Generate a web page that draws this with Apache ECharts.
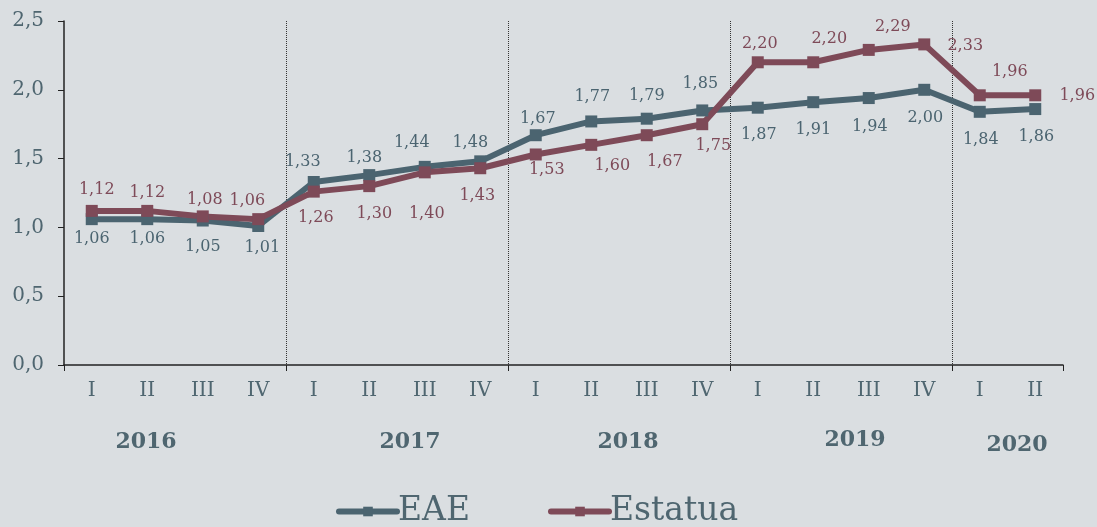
<!DOCTYPE html>
<html>
<head>
<meta charset="utf-8">
<script src="https://cdn.jsdelivr.net/npm/echarts@6/dist/echarts.min.js"></script>
<style>
  html, body { margin: 0; padding: 0; background: #dadee1; }
  #chart { width: 1097px; height: 527px; }
</style>
</head>
<body>
<div id="chart"></div>
<script>
// datos
var quarters = ['I','II','III','IV','I','II','III','IV','I','II','III','IV','I','II','III','IV','I','II'];
var years = ['2016', '2017', '2018', '2019', '2020'];
var eae = [1.06, 1.06, 1.05, 1.01, 1.33, 1.38, 1.44, 1.48, 1.67, 1.77, 1.79, 1.85, 1.87, 1.91, 1.94, 2.00, 1.84, 1.86];
var estatua = [1.12, 1.12, 1.08, 1.06, 1.26, 1.30, 1.40, 1.43, 1.53, 1.60, 1.67, 1.75, 2.20, 2.20, 2.29, 2.33, 1.96, 1.96];
var yTicks = [0, 0.5, 1, 1.5, 2, 2.5];

// desplazamiento de etiquetas [dx, dy]
var offEAE = [[0,20],[0,20],[0,26],[4,22],[-11,-20],[-5,-17],[-13,-24],[-10,-19],[2,-16],[1,-25],[0,-23],[-2,-27],[1,27],[0,28],[1,29],[1,28],[1,28],[1,28]];
var offEst = [[5,-21],[0,-18],[2,-17],[-11,-18],[2,26],[5,28],[2,41],[-3,28],[11,15],[21,21],[18,27],[11,22],[2,-18],[16,-23],[24,-23],[41,1],[30,-23],[42,1]];
var yearPos = [[146,442],[410,442],[628,442],[855,440],[1017,445]];

var txt = '#4f6670';
var cEAE = '#4b6470';
var cEst = '#7e4a58';
var font = 'DejaVu Serif';

function fmt(v) { return v.toFixed(2).replace('.', ','); }

function buildData(vals, offs, color) {
  var out = [];
  for (var i = 0; i < vals.length; i++) {
    out.push({
      value: vals[i],
      label: { show: true, position: 'inside', offset: offs[i], color: color, fontSize: 16, fontFamily: font, formatter: fmt(vals[i]) }
    });
  }
  return out;
}

// separadores entre años (cada 4 trimestres)
function sep(idx) { return idx < 18 && idx % 4 === 0; }

var chart = echarts.init(document.getElementById('chart'));

var graphics = [];
for (var k = 0; k < years.length; k++) {
  graphics.push({
    type: 'text', x: yearPos[k][0], y: yearPos[k][1],
    style: { text: years[k], fill: txt, font: 'bold 22px "DejaVu Serif"', textAlign: 'center', textVerticalAlign: 'middle' }
  });
}

chart.setOption({
  backgroundColor: '#dadee1',
  animation: false,
  grid: { left: 64, right: 34, top: 21, bottom: 162 },
  legend: {
    data: ['EAE', 'Estatua'],
    left: 331, top: 490,
    itemWidth: 58, itemHeight: 12, itemGap: 78,
    lineStyle: { width: 6, cap: 'round' },
    textStyle: { color: txt, fontSize: 33, fontFamily: font, padding: [0, 0, 0, -4] }
  },
  xAxis: {
    type: 'category',
    data: quarters,
    boundaryGap: true,
    axisLine: { lineStyle: { color: '#222', width: 1.5 } },
    axisTick: { show: true, interval: sep, length: 6, lineStyle: { color: '#222' } },
    splitLine: { show: true, interval: sep, showMinLine: false, showMaxLine: false, lineStyle: { color: '#333', type: [1, 1], width: 1 } },
    axisLabel: { interval: 0, color: txt, fontSize: 20, fontFamily: font, margin: 16 }
  },
  yAxis: {
    type: 'value',
    min: 0, max: 2.5, interval: 0.5,
    axisLine: { show: true, lineStyle: { color: '#222', width: 1.5 } },
    axisTick: { show: true, length: 6, lineStyle: { color: '#222' } },
    splitLine: { show: false },
    axisLabel: { color: txt, fontSize: 20, fontFamily: font, margin: 20, formatter: function (v) { return v.toFixed(1).replace('.', ','); } }
  },
  graphic: graphics,
  series: [
    {
      name: 'EAE', type: 'line',
      data: buildData(eae, offEAE, cEAE),
      symbol: 'rect', symbolSize: 12,
      lineStyle: { color: cEAE, width: 6 },
      itemStyle: { color: cEAE }
    },
    {
      name: 'Estatua', type: 'line',
      data: buildData(estatua, offEst, cEst),
      symbol: 'rect', symbolSize: 12,
      lineStyle: { color: cEst, width: 6 },
      itemStyle: { color: cEst }
    }
  ]
});
</script>
</body>
</html>
